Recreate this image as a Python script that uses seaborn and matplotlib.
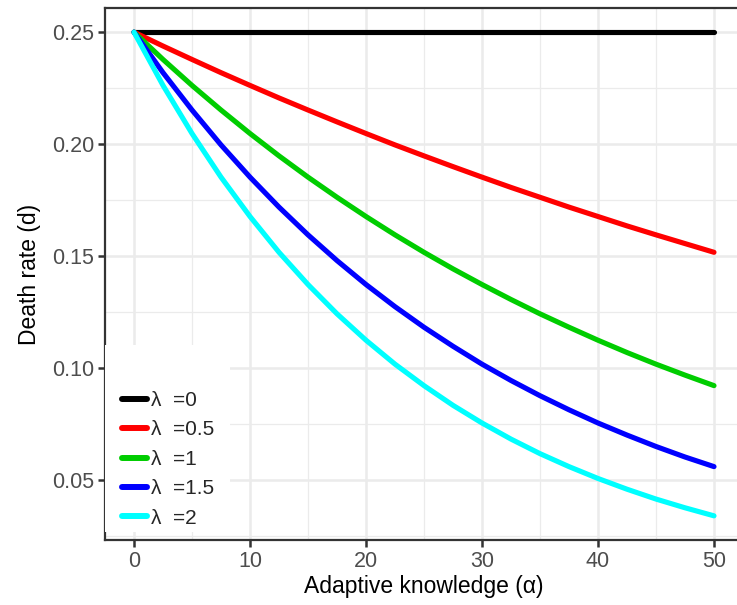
import pandas as pd
import matplotlib
matplotlib.use("Agg")
import matplotlib.pyplot as plt
import seaborn as sns
from matplotlib.ticker import MultipleLocator
from matplotlib.patches import Rectangle

# values, alpha every 2.5
alpha = [0, 2.5, 5, 7.5, 10, 12.5, 15, 17.5, 20, 22.5, 25,
         27.5, 30, 32.5, 35, 37.5, 40, 42.5, 45, 47.5, 50]
d_l0 = [0.25] * 21
d_l05 = [0.250, 0.2438, 0.2378, 0.2319, 0.2262, 0.2206, 0.2152, 0.2099, 0.2047, 0.1996, 0.1947,
         0.1899, 0.1852, 0.1806, 0.1762, 0.1718, 0.1676, 0.1634, 0.1594, 0.1555, 0.1516]
d_l1 = [0.250, 0.2378, 0.2262, 0.2152, 0.2047, 0.1947, 0.1852, 0.1762, 0.1676, 0.1594, 0.1516,
        0.1442, 0.1372, 0.1305, 0.1241, 0.1181, 0.1123, 0.1068, 0.1016, 0.0967, 0.0920]
d_l15 = [0.250, 0.2319, 0.2152, 0.1996, 0.1852, 0.1718, 0.1594, 0.1479, 0.1372, 0.1273, 0.1181,
         0.1096, 0.1016, 0.0943, 0.0875, 0.0812, 0.0753, 0.0699, 0.0648, 0.0601, 0.0558]
d_l2 = [0.250, 0.2262, 0.2047, 0.1852, 0.1676, 0.1516, 0.1372, 0.1241, 0.1123, 0.1016, 0.0920,
        0.0832, 0.0753, 0.0681, 0.0616, 0.0558, 0.0505, 0.0457, 0.0413, 0.0374, 0.0338]
labels = ["λ  =0", "λ  =0.5", "λ  =1", "λ  =1.5", "λ  =2"]
colors = ["#000000", "#FF0000", "#00CD00", "#0000FF", "#00FFFF"]

rows = []
for lab, ys in zip(labels, [d_l0, d_l05, d_l1, d_l15, d_l2]):
    for a, y in zip(alpha, ys):
        rows.append((a, y, lab))
df = pd.DataFrame(rows, columns=["alpha", "d", "lambda"])

sns.set_style("white")
plt.rcParams['font.family'] = ['Liberation Sans', 'DejaVu Sans']

fig = plt.figure(figsize=(7.37, 6.05), dpi=100)
ax = fig.add_axes([105/737, 65/605, 638/737, 532/605])

sns.lineplot(data=df, x="alpha", y="d", hue="lambda", hue_order=labels,
             palette=colors, linewidth=3.7, ax=ax, zorder=3)

ax.set_xlim(-2.5, 52.5)
ax.set_ylim(0.0230, 0.2608)
ax.xaxis.set_major_locator(MultipleLocator(10))
ax.xaxis.set_minor_locator(MultipleLocator(5))
ax.yaxis.set_major_locator(MultipleLocator(0.05))
ax.yaxis.set_minor_locator(MultipleLocator(0.025))
ax.set_yticks([0.05, 0.10, 0.15, 0.20, 0.25])
ax.set_yticklabels(["0.05", "0.10", "0.15", "0.20", "0.25"])
ax.grid(which="major", color="#EBEBEB", linewidth=1.8, zorder=0)
ax.grid(which="minor", color="#EBEBEB", linewidth=0.9, zorder=0)
ax.set_axisbelow(True)

for s in ["left", "top", "bottom"]:
    ax.spines[s].set_color("#333333")
    ax.spines[s].set_linewidth(1.6)
ax.spines["right"].set_visible(False)

ax.tick_params(which="major", direction="out", length=5, width=1.8, color="#333333",
               labelsize=15.5, labelcolor="#4D4D4D", left=True, bottom=True, pad=3)
ax.tick_params(which="minor", length=0)

ax.set_xlabel("Adaptive knowledge (α)", fontsize=16.5, color="black", labelpad=2)
ax.set_ylabel("Death rate (d)", fontsize=16.5, color="black", labelpad=8)

# white legend background box
ax.add_patch(Rectangle((0.0, 0.015), 0.196, 0.352, transform=ax.transAxes,
                       facecolor="white", edgecolor="none", zorder=4))

leg = ax.legend(loc="upper left", bbox_to_anchor=(17/638, (540 - 391)/532),
                fontsize=15, frameon=False,
                handlelength=1.2, handletextpad=0.2, labelspacing=0.5,
                borderpad=0.0, borderaxespad=0.0)
leg.set_zorder(5)
for line in leg.get_lines():
    line.set_linewidth(4.3)

fig.savefig("out.png", dpi=100)
